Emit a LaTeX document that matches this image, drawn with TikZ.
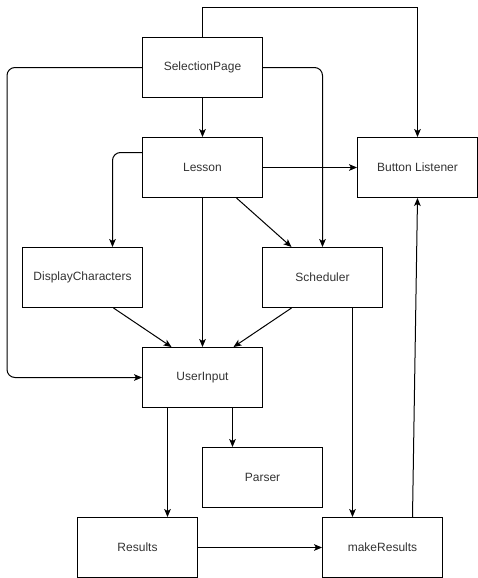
\documentclass[tikz,border=0pt]{standalone}
\usepackage{fontspec}
\setmainfont{Liberation Sans}
\usetikzlibrary{calc,arrows.meta}

\begin{document}
\begin{tikzpicture}[x=0.75pt,y=-0.75pt,line width=0.75pt,>={Stealth[length=6pt,width=5pt,inset=1.5pt]},
  box/.style={draw,minimum width=90pt,minimum height=45pt,inner sep=0pt,text=black!80,font=\fontsize{9}{11}\selectfont},
  corner/.style={rounded corners=6pt}]
\useasboundingbox (0,0) rectangle (478,578);
\node[box] (sel) at (202.5,67.5) {SelectionPage};
\node[box] (lesson) at (202.5,167.5) {Lesson};
\node[box] (button) at (417.5,167.5) {Button Listener};
\node[box] (disp) at (82.5,277.5) {DisplayCharacters};
\node[box] (sched) at (322.5,277.5) {Scheduler};
\node[box] (user) at (202.5,377.5) {UserInput};
\node[box] (parser) at (262.5,477.5) {Parser};
\node[box] (results) at (137.5,547.5) {Results};
\node[box] (make) at (382.5,547.5) {makeResults};
% from SelectionPage
\draw[->] (sel.north) -- ++(0,-30) -| (button.north);
\draw[->] (sel) -- (lesson);
\draw[->,corner] (sel.west) -- ++(-135,0) |- (user.west);
\draw[->,corner] (sel.east) -| (sched.north);
% from Lesson
\draw[->,corner] ($(lesson.west)+(0,-15)$) -| ($(disp.north)+(30,0)$);
\draw[->] (lesson.east) -- (button.west);
\draw[->] (lesson.south) -- (user.north);
\draw[->] ($(lesson.south)+(34,0)$) -- ($(sched.north)+(-31,0)$);
% into UserInput
\draw[->] ($(disp.south)+(31,0)$) -- ($(user.north)+(-31,0)$);
\draw[->] ($(sched.south)+(-31,0)$) -- ($(user.north)+(31,0)$);
% lower part
\draw[->] ($(sched.south)+(30,0)$) -- ($(make.north)+(-30,0)$);
\draw[->] ($(user.south)+(30,0)$) -- ($(parser.north)+(-30,0)$);
\draw[->] ($(user.south)+(-35,0)$) -- ($(results.north)+(30,0)$);
\draw[->] (results.east) -- (make.west);
\draw[->] ($(make.north)+(30,0)$) -- (button.south);
\end{tikzpicture}
\end{document}
